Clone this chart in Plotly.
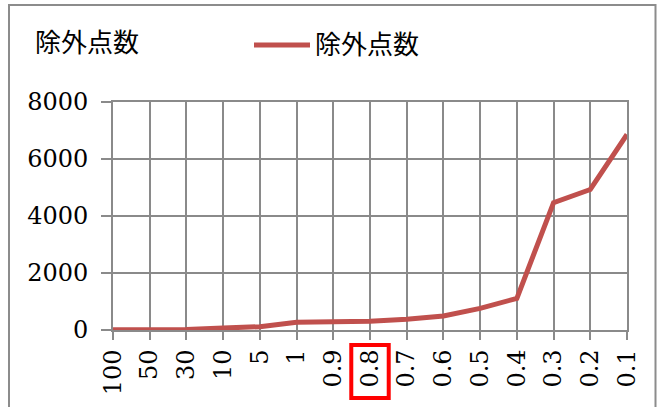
import plotly.graph_objects as go

# Exclusion counts per threshold
thresholds = ["100", "50", "30", "10", "5", "1", "0.9", "0.8", "0.7",
              "0.6", "0.5", "0.4", "0.3", "0.2", "0.1"]
excluded = [5, 5, 15, 70, 115, 270, 290, 305, 375, 490, 760, 1110, 4470, 4930, 6860]
y_ticks = [0, 2000, 4000, 6000, 8000]
series_name = "除外点数"
chart_title = "除外点数"
highlight = "0.8"

W, H = 662, 407
L, R, T, B = 113, 35, 102, 77
PW, PH = W - L - R, H - T - B

def px_x(p):
    return (p - L) / PW

def px_y(p):
    return (H - B - p) / PH

grid = "#8a8a8a"
line_color = "#C0504D"
num_font = dict(family="DejaVu Serif", size=24, color="#000000")
cjk = "Noto Sans CJK JP"

fig = go.Figure()
fig.add_trace(go.Scatter(
    x=thresholds, y=excluded, mode="lines", name=series_name,
    line=dict(color=line_color, width=5), showlegend=False,
))

axis_common = dict(
    showgrid=True, gridcolor=grid, gridwidth=1.7,
    showline=True, mirror=True, linecolor=grid, linewidth=1.7,
    ticks="outside", tickcolor=grid, tickwidth=1.7,
    tickfont=num_font, zeroline=False,
)

fig.update_layout(
    width=W, height=H,
    margin=dict(l=L, r=R, t=T, b=B),
    paper_bgcolor="white", plot_bgcolor="white",
    showlegend=False,
    xaxis=dict(
        type="category", categoryorder="array", categoryarray=thresholds,
        range=[0, len(thresholds) - 1], ticklen=8, tickangle=-90,
        **axis_common,
    ),
    yaxis=dict(
        range=[0, 8000], tickvals=y_ticks, ticklen=10, ticklabelstandoff=8,
        **axis_common,
    ),
)

# Chart title
fig.add_annotation(
    text=chart_title, xref="paper", yref="paper",
    x=px_x(33), y=px_y(41), xanchor="left", yanchor="middle",
    showarrow=False, font=dict(family=cjk, size=26, color="#000000"),
)

# Legend: sample line and series name
fig.add_shape(
    type="line", xref="paper", yref="paper",
    x0=px_x(254), x1=px_x(310), y0=px_y(45), y1=px_y(45),
    line=dict(color=line_color, width=5),
)
fig.add_annotation(
    text=series_name, xref="paper", yref="paper",
    x=px_x(313), y=px_y(43), xanchor="left", yanchor="middle",
    showarrow=False, font=dict(family=cjk, size=26, color="#000000"),
)

# Outer frame
fig.add_shape(
    type="rect", xref="paper", yref="paper",
    x0=px_x(9), x1=px_x(655.5), y0=px_y(420), y1=px_y(5),
    line=dict(color="#8c8c8c", width=2), layer="above",
)

# Highlight box around one tick label
hi = thresholds.index(highlight)
fig.add_shape(
    type="rect", xref="x", yref="paper",
    x0=hi - 0.51, x1=hi + 0.51, y0=px_y(398), y1=px_y(345),
    line=dict(color="#FF0000", width=4), layer="above",
)

fig.write_html("out.html")
